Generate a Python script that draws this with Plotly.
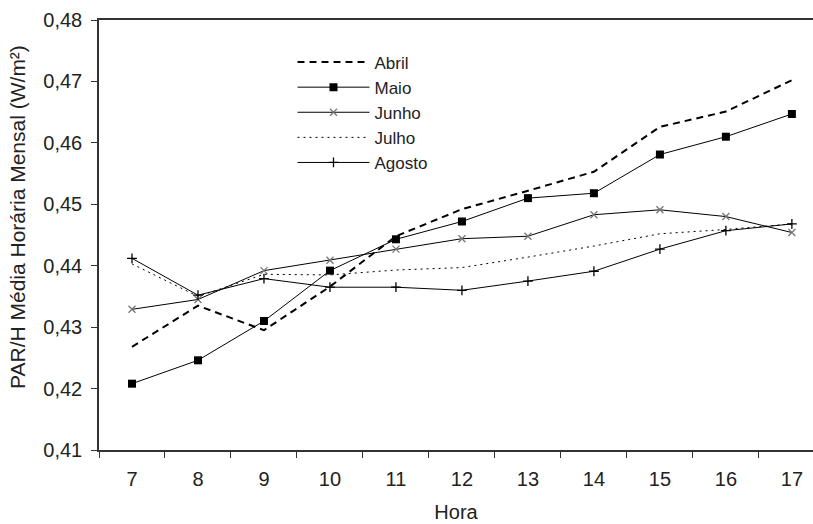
import plotly.graph_objects as go

horas = ["7", "8", "9", "10", "11", "12", "13", "14", "15", "16", "17"]
abril = [0.4268, 0.4335, 0.4295, 0.4366, 0.4448, 0.4492, 0.4522, 0.4553, 0.4626, 0.4651, 0.4702]
maio = [0.4208, 0.4246, 0.4310, 0.4392, 0.4443, 0.4472, 0.4510, 0.4518, 0.4581, 0.4610, 0.4647]
junho = [0.4329, 0.4345, 0.4392, 0.4409, 0.4427, 0.4444, 0.4448, 0.4483, 0.4491, 0.4480, 0.4454]
julho = [0.4403, 0.4350, 0.4386, 0.4385, 0.4393, 0.4397, 0.4414, 0.4432, 0.4452, 0.4459, 0.4468]
agosto = [0.4412, 0.4352, 0.4379, 0.4365, 0.4365, 0.4360, 0.4375, 0.4391, 0.4427, 0.4457, 0.4468]

FONT = "Liberation Sans, Arial, sans-serif"
TXT = "#222222"

fig = go.Figure()
fig.add_trace(go.Scatter(x=horas, y=abril, name="Abril", mode="lines",
                         line=dict(color="black", width=2, dash="7px,5px")))
fig.add_trace(go.Scatter(x=horas, y=maio, name="Maio", mode="lines+markers",
                         line=dict(color="black", width=1),
                         marker=dict(symbol="square", size=8, color="black")))
fig.add_trace(go.Scatter(x=horas, y=junho, name="Junho", mode="lines+markers",
                         line=dict(color="black", width=1),
                         marker=dict(symbol="x-thin", size=7, color="#777777",
                                     line=dict(color="#777777", width=1.3))))
fig.add_trace(go.Scatter(x=horas, y=julho, name="Julho", mode="lines",
                         line=dict(color="black", width=1, dash="2px,4px")))
fig.add_trace(go.Scatter(x=horas, y=agosto, name="Agosto", mode="lines+markers",
                         line=dict(color="black", width=1),
                         marker=dict(symbol="cross-thin", size=7, color="black",
                                     line=dict(color="black", width=1.3))))

fig.update_layout(
    width=813, height=524,
    margin=dict(l=99, r=0, t=20, b=74),
    paper_bgcolor="white", plot_bgcolor="white",
    separators=",.",
    font=dict(family=FONT, size=20, color=TXT),
    showlegend=True,
    legend=dict(x=0.271, y=0.943, xanchor="left", yanchor="top",
                bgcolor="rgba(0,0,0,0)", borderwidth=0, itemwidth=72,
                font=dict(family=FONT, size=17, color=TXT),
                tracegroupgap=0),
    xaxis=dict(type="category", range=[-0.5, 10.32], tickson="boundaries",
               ticks="outside", ticklen=6, tickcolor="#333333",
               showline=True, linecolor="#333333", linewidth=1.5, mirror=True,
               showgrid=False, zeroline=False, ticklabelstandoff=10,
               automargin=False,
               tickfont=dict(family=FONT, size=20, color=TXT),
               title=dict(text="Hora", standoff=16,
                          font=dict(family=FONT, size=20, color=TXT))),
    yaxis=dict(range=[0.41, 0.48], dtick=0.01, tickformat=".2f",
               ticks="outside", ticklen=6, tickcolor="#333333",
               showline=True, linecolor="#333333", linewidth=1.5, mirror=False,
               showgrid=False, zeroline=False, ticklabelstandoff=5,
               automargin=False,
               tickfont=dict(family=FONT, size=20, color=TXT)),
    annotations=[dict(text="PAR/H Média Horária Mensal (W/m²)", textangle=-90,
                      xref="paper", yref="paper", x=-0.114, y=0.541,
                      xanchor="center", yanchor="middle", showarrow=False,
                      font=dict(family=FONT, size=21, color=TXT))],
)

fig.write_html("out.html", config={"displayModeBar": False},
               post_script="document.body.style.margin='0';document.body.style.overflow='hidden';")
